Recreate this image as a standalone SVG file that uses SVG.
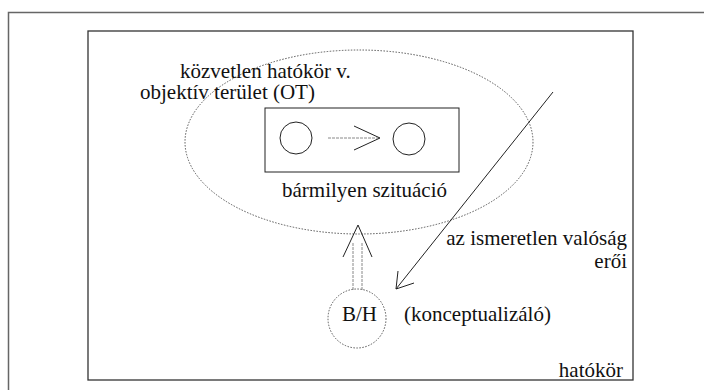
<svg xmlns="http://www.w3.org/2000/svg" width="704" height="390" viewBox="0 0 704 390">
<style>
text{font-family:'Liberation Serif','Tinos','Times New Roman','DejaVu Serif',serif;font-size:21px;fill:#111}
.dot{fill:none;stroke:#555;stroke-width:1;stroke-dasharray:1.5 1.5}
.solid{fill:none;stroke:#222;stroke-width:1}
.gray{fill:none;stroke:#888;stroke-width:1;stroke-dasharray:3 1}
</style>
<rect width="704" height="390" fill="#fff"/>
<g id="outer-frame"><rect x="8.5" y="12.5" width="720" height="400" fill="none" stroke="#666" stroke-width="1.5"/></g>
<g id="hatokor"><rect x="88" y="31" width="545" height="349" fill="none" stroke="#333" stroke-width="1.3"/>
<text x="623" y="377" text-anchor="end" font-family="Liberation Serif, serif" font-size="22">hatókör</text></g>
<g id="kozvetlen-hatokor"><ellipse class="dot" cx="359" cy="142" rx="174" ry="92"/>
<text x="180" y="78" font-family="Liberation Serif, serif">közvetlen hatókör v.</text>
<text x="140" y="99" font-family="Liberation Serif, serif">objektív terület (OT)</text></g>
<g id="szituacio"><rect class="solid" x="265" y="108" width="194" height="64"/>
<circle id="c1" class="solid" cx="296" cy="138" r="16"/>
<circle id="c2" class="solid" cx="409" cy="139" r="16"/>
<text x="282" y="197" font-family="Liberation Serif, serif">bármilyen szituáció</text></g>
<g id="bh"><ellipse class="dot" cx="357" cy="318.5" rx="29" ry="29.5"/>
<text x="342" y="321" font-family="Liberation Serif, serif">B/H</text>
<text x="404" y="321" font-family="Liberation Serif, serif">(konceptualizáló)</text></g>
<g id="forces"><text x="627" y="245" text-anchor="end" font-family="Liberation Serif, serif">az ismeretlen valóság</text>
<text x="627" y="268" text-anchor="end" font-family="Liberation Serif, serif">erői</text></g>
<g id="connectors">
<line class="gray" x1="328" y1="138" x2="379" y2="138"/>
<polyline class="solid" points="354,126 380,138 354,150"/>
<line class="gray" x1="353" y1="243" x2="353" y2="290"/>
<line class="gray" x1="362" y1="243" x2="362" y2="290"/>
<polyline class="solid" points="343,257 358,225 372,257"/>
<line class="solid" x1="553" y1="92" x2="396" y2="289"/>
<polyline class="solid" points="398,271 396,289 414,283"/>
</g>
</svg>
